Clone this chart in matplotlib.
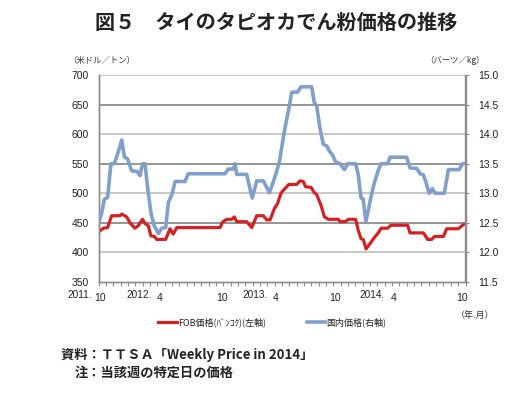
import matplotlib
matplotlib.use("Agg")
import matplotlib.pyplot as plt
import numpy as np

plt.rcParams['font.family'] = ['Noto Sans CJK JP', 'DejaVu Sans']

# ---- data (x = weeks since 2011.10) ----
fob_weeks = [0, 2.0, 3.8, 5.5, 9.1, 9.8, 11.9, 13.3, 15.4, 16.8, 18.6, 19.7, 21.1, 22.2, 23.7,
             24.7, 28.5, 30.3, 31.7, 33.2, 51.6, 52.6, 54.4, 56.6, 57.7, 58.7, 62.9, 65.1,
             67.2, 70.0, 71.5, 72.9, 74.7, 76.1, 77.5, 78.5, 80.9, 84.2, 85.6, 87.0, 88.0,
             90.3, 91.7, 92.7, 94.6, 96.0, 97.7, 101.9, 102.6, 104.8, 106.2, 109.3, 110.4,
             111.6, 112.5, 113.7, 115.4, 117.2, 118.9, 120.1, 122.9, 124.3, 131.4, 132.4,
             138.1, 139.9, 141.6, 142.8, 146.6, 148.0, 152.9, 155.1, 155.8]
fob_usd = [435, 441, 442, 462, 462, 465, 460, 450, 441, 445, 456, 449, 445, 428, 427,
           422, 422, 440, 431, 442, 442, 451, 456, 456, 460, 452, 452, 442,
           462, 462, 455, 455, 474, 483, 500, 505, 515, 515, 521, 520, 511,
           510, 501, 498, 479, 460, 456, 456, 452, 452, 456, 456, 437,
           423, 422, 406, 415, 425, 433, 441, 441, 446, 446, 433,
           433, 422, 422, 427, 427, 440, 440, 447, 448]

dom_weeks = [0, 1.3, 2.4, 3.8, 5.2, 6.6, 8.1, 9.8, 10.9, 12.3, 14.0, 16.2, 17.6, 18.6, 19.7,
             20.8, 22.2, 23.7, 25.4, 26.8, 28.5, 29.6, 31.3, 32.5, 36.7, 38.1, 53.7, 55.1,
             57.3, 58.0, 58.7, 62.9, 65.3, 67.2, 70.0, 72.6, 74.3, 76.7, 79.2, 80.9, 82.1,
             84.6, 86.0, 90.6, 91.7, 92.7, 94.1, 95.5, 97.0, 98.0, 99.4, 100.8, 102.6,
             104.5, 105.9, 109.3, 110.4, 111.6, 112.5, 113.6, 114.7, 115.8, 117.2, 118.9,
             120.1, 122.9, 123.9, 131.0, 132.4, 135.3, 136.7, 138.1, 139.1, 140.5, 141.9,
             143.1, 147.0, 148.7, 153.3, 154.7, 155.8]
dom_baht = [12.50, 12.67, 12.90, 12.93, 13.50, 13.50, 13.67, 13.90, 13.62, 13.58, 13.38, 13.37,
            13.30, 13.50, 13.50, 13.10, 12.67, 12.44, 12.32, 12.41, 12.42, 12.84, 13.00, 13.20,
            13.20, 13.33, 13.33, 13.41, 13.41, 13.50, 13.32, 13.32, 12.92, 13.21, 13.21, 13.01,
            13.20, 13.50, 14.10, 14.44, 14.71, 14.71, 14.80, 14.80, 14.53, 14.48, 14.10, 13.83,
            13.80, 13.72, 13.65, 13.53, 13.50, 13.40, 13.50, 13.50, 13.31, 12.92, 12.90, 12.52,
            12.72, 12.94, 13.17, 13.39, 13.50, 13.50, 13.61, 13.61, 13.43, 13.42, 13.33, 13.31,
            13.20, 13.00, 13.08, 13.00, 13.00, 13.40, 13.40, 13.50, 13.50]

month_label_weeks = [0.5, 26.1, 52.3, 75.4, 100.5, 125.3, 154.7]
month_labels = ["10", "4", "10", "4", "10", "4", "10"]
year_labels = ["2011.", "2012.", "2013.", "2014."]
year_label_right_weeks = [-3.0, 22.5, 72.0, 121.8]

left_ticks = [350, 400, 450, 500, 550, 600, 650, 700]
right_ticks = [11.5, 12.0, 12.5, 13.0, 13.5, 14.0, 14.5, 15.0]

W, H = 524, 397
fig = plt.figure(figsize=(W / 100, H / 100), dpi=100)
x0, x1, y0, y1 = 98.7, 465.5, 75, 282
ax = fig.add_axes([x0 / W, 1 - y1 / H, (x1 - x0) / W, (y1 - y0) / H])
ax2 = ax.twinx()

red = '#d42222'
blue = '#819fcb'
ax.plot(fob_weeks, fob_usd, color=red, lw=2.3, solid_joinstyle='round', zorder=3)
ax2.plot(dom_weeks, dom_baht, color=blue, lw=2.6, solid_joinstyle='round', zorder=3)

ax.set_xlim(0, 156)
ax.set_ylim(350, 700)
ax2.set_ylim(11.5, 15.0)

# gridlines
for v in [400, 450, 500, 550, 600, 650, 700]:
    c = '#8c8c8c' if v in (450, 550, 650) else '#c4c4c4'
    ax.axhline(v, color=c, lw=1.3, zorder=1)

for a in (ax, ax2):
    for s in a.spines.values():
        s.set_color('#8c8c8c')
        s.set_linewidth(1.0)
    a.spines['top'].set_visible(False)

tick_font = ['Liberation Sans Narrow', 'Liberation Sans', 'DejaVu Sans']

ax.set_yticks(left_ticks)
ax.set_yticklabels([str(v) for v in left_ticks])
ax2.set_yticks(right_ticks)
ax2.set_yticklabels([f"{v:.1f}" for v in right_ticks])
ax.tick_params(axis='y', length=0, pad=7, labelsize=7.5, labelcolor='#222222')
ax2.tick_params(axis='y', length=3, color='#8c8c8c', pad=6, labelsize=7.5, labelcolor='#222222')
for lab in ax.get_yticklabels() + ax2.get_yticklabels():
    lab.set_fontfamily(tick_font)

ax.set_xticks(month_label_weeks)
ax.set_xticklabels(month_labels)
ax.set_xticks(np.linspace(0, 156, 51), minor=True)
ax.tick_params(axis='x', which='major', length=0, pad=8, labelsize=7.5, labelcolor='#222222')
ax.tick_params(axis='x', which='minor', length=3, color='#8c8c8c', width=0.8)
for lab in ax.get_xticklabels():
    lab.set_fontfamily(tick_font)
for w, t in zip(year_label_right_weeks, year_labels):
    ax.text(w, 350 - 22, t, ha='right', va='center', fontsize=7.2, color='#222222',
            family=tick_font, clip_on=False)

def ft(x, y, s, **kw):
    fig.text(x / W, 1 - y / H, s, **kw)

ft(276, 22, "図５　タイのタピオカでん粉価格の推移", ha='center', va='center',
   fontsize=14.5, fontweight='bold', color='#222222')
ft(102, 60, "（米ドル／トン）", ha='center', va='center', fontsize=6, color='#333333')
ft(455, 60, "（バーツ／kg）", ha='center', va='center', fontsize=6, color='#333333')
ft(475, 315, "（年.月）", ha='center', va='center', fontsize=6.5, color='#333333')

# legend
fig.lines.append(plt.Line2D([158 / W, 177 / W], [1 - 322 / H] * 2, color=red, lw=2.3,
                            transform=fig.transFigure))
ft(178, 322, "FOB価格(ﾊﾞﾝｺｸ)(左軸)", ha='left', va='center', fontsize=6.5, color='#222222')
fig.lines.append(plt.Line2D([307 / W, 325 / W], [1 - 322 / H] * 2, color=blue, lw=2.6,
                            transform=fig.transFigure))
ft(326, 322, "国内価格(右軸)", ha='left', va='center', fontsize=6.5, color='#222222')

ft(61, 355, "資料：ＴＴＳＡ「Weekly Price in 2014」", ha='left', va='center',
   fontsize=9.5, fontweight='bold', color='#222222')
ft(75, 373, "注：当該週の特定日の価格", ha='left', va='center',
   fontsize=9.5, fontweight='bold', color='#222222')

fig.savefig("out.png", dpi=100)
